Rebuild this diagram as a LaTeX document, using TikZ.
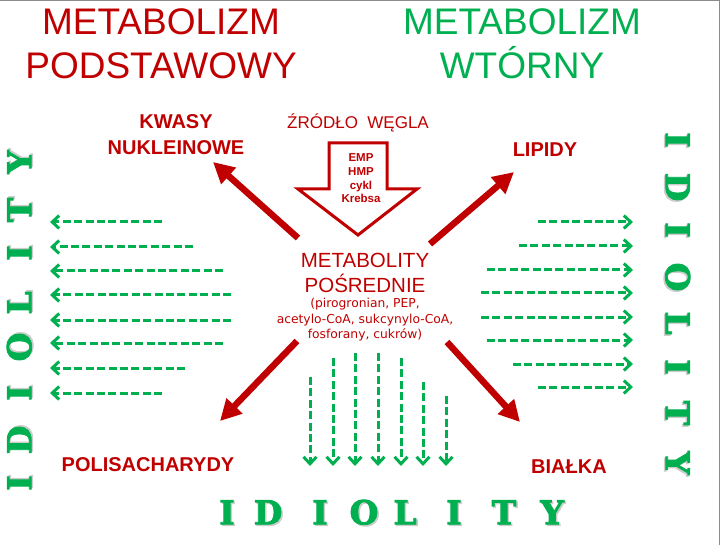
\documentclass[tikz,border=0pt]{standalone}
\usepackage{fontspec}
\setmainfont{Liberation Sans}
\newfontfamily\slabfont{DejaVu Serif}[BoldFeatures={FakeBold=2.5}]
\newfontfamily\verdfont{DejaVu Sans}
\usetikzlibrary{positioning,arrows.meta}
\definecolor{darkred}{RGB}{192,0,0}
\definecolor{dgreen}{RGB}{0,176,80}
\newcommand{\shadeletter}[1]{\makebox[0pt][l]{\hspace{1.5pt}\raisebox{-1.5pt}{\color{black!20}#1}}#1}

\begin{document}
\begin{tikzpicture}[x=1pt,y=-1pt,
    headline/.style={font=\fontsize{37}{44}\selectfont,inner sep=0pt,align=center},
    redlabel/.style={text=darkred,font=\bfseries\fontsize{20}{26}\selectfont,inner sep=0pt,align=center},
    redarrow/.style={draw=darkred,line width=6.5pt,-{Triangle[length=21pt,width=21pt]}},
    greenarrow/.style={draw=dgreen,line width=3pt,dash pattern=on 8pt off 3.4pt,-{Straight Barb[length=7pt,width=13pt]}},
    idletter/.style={text=dgreen,font=\slabfont\bfseries\fontsize{33}{33}\selectfont,inner sep=0pt}]
  \useasboundingbox (0,0) rectangle (720,545) ;
  \draw[black!45,line width=1.5pt] (0,0.75) -- (719.25,0.75) -- (719.25,545) ;

  % titles
  \node[headline,text=darkred] (podst) at (161,44) {METABOLIZM\\PODSTAWOWY} ;
  \node[headline,text=dgreen] (wtorny) at (522,44) {METABOLIZM\\WTÓRNY} ;

  % source of carbon
  \node[text=darkred,font=\fontsize{17}{20}\selectfont,anchor=base,inner sep=0pt] (zrodlo) at (358,129) {ŹRÓDŁO~~WĘGLA} ;
  \draw[darkred,line width=3pt] (329,143) -- (387,143) -- (387,189) -- (417,189) -- (358,235) -- (298,189) -- (329,189) -- cycle ;
  \node[text=darkred,font=\bfseries\fontsize{11.5}{13.7}\selectfont,align=center,inner sep=0pt] (krebs) at (361,178.5) {EMP\\HMP\\cykl\\Krebsa} ;

  % intermediates
  \node[text=darkred,font=\fontsize{20.5}{25}\selectfont,align=center,inner sep=0pt] (mid) at (365,273) {METABOLITY\\POŚREDNIE} ;
  \node[text=darkred,font=\verdfont\fontsize{12.3}{15.5}\selectfont,align=center,inner sep=0pt,below=5pt of mid] (midlist) {(pirogronian, PEP,\\acetylo-CoA, sukcynylo-CoA,\\fosforany, cukrów)} ;

  % products
  \node[redlabel] (kwasy) at (176,135) {KWASY\\NUKLEINOWE} ;
  \node[redlabel] (lipidy) at (545,150) {LIPIDY} ;
  \node[redlabel] (polisach) at (148,465) {POLISACHARYDY} ;
  \node[redlabel] (bialka) at (569,467) {BIAŁKA} ;

  \coordinate (kn-s) at (298,238) ; \coordinate (kn-e) at (213,162) ;
  \coordinate (lp-s) at (430,244) ; \coordinate (lp-e) at (514,172) ;
  \coordinate (ps-s) at (297,341) ; \coordinate (ps-e) at (220,421) ;
  \coordinate (bk-s) at (447,342) ; \coordinate (bk-e) at (520,422) ;
  \draw[redarrow] (kn-s) -- (kn-e) ;
  \draw[redarrow] (lp-s) -- (lp-e) ;
  \draw[redarrow] (ps-s) -- (ps-e) ;
  \draw[redarrow] (bk-s) -- (bk-e) ;

  % idiolity arrows
  \foreach \y/\x [count=\i] in {222/162,247/193,271/223,295/231,320/231,343/223,368/185,393/162} {
    \coordinate (ls\i) at (\x,\y) ; \coordinate (le\i) at (50,\y) ;
    \draw[greenarrow] (ls\i) -- (le\i) ;
  }
  \foreach \y/\x [count=\i] in {222/538,246/519,270/487,293/481,317/481,340/487,364/513,387/538} {
    \coordinate (rs\i) at (\x,\y) ; \coordinate (re\i) at (633,\y) ;
    \draw[greenarrow] (rs\i) -- (re\i) ;
  }
  \foreach \x/\y [count=\i] in {310/377,333/358,355/353,378/353,401/358,423/382,446/396} {
    \coordinate (bs\i) at (\x,\y) ; \coordinate (be\i) at (\x,466) ;
    \draw[greenarrow] (bs\i) -- (be\i) ;
  }

  % idiolity letters
  \foreach \l/\x [count=\i] in {I/227,D/268,I/320,O/364,L/405,I/454,T/504,Y/552}
    \node[idletter] (b\i) at (\x,513) {\shadeletter{\l}} ;
  \foreach \l/\y [count=\i] in {I/483,D/440,I/393,O/347,L/303,I/253,T/210,Y/162}
    \node[idletter,rotate=90] (l\i) at (20,\y) {\shadeletter{\l}} ;
  \foreach \l/\y [count=\i] in {I/140,D/187,I/230,O/277,L/323,I/367,T/413,Y/463}
    \node[idletter,rotate=-90] (r\i) at (677,\y) {\shadeletter{\l}} ;
\end{tikzpicture}
\end{document}
